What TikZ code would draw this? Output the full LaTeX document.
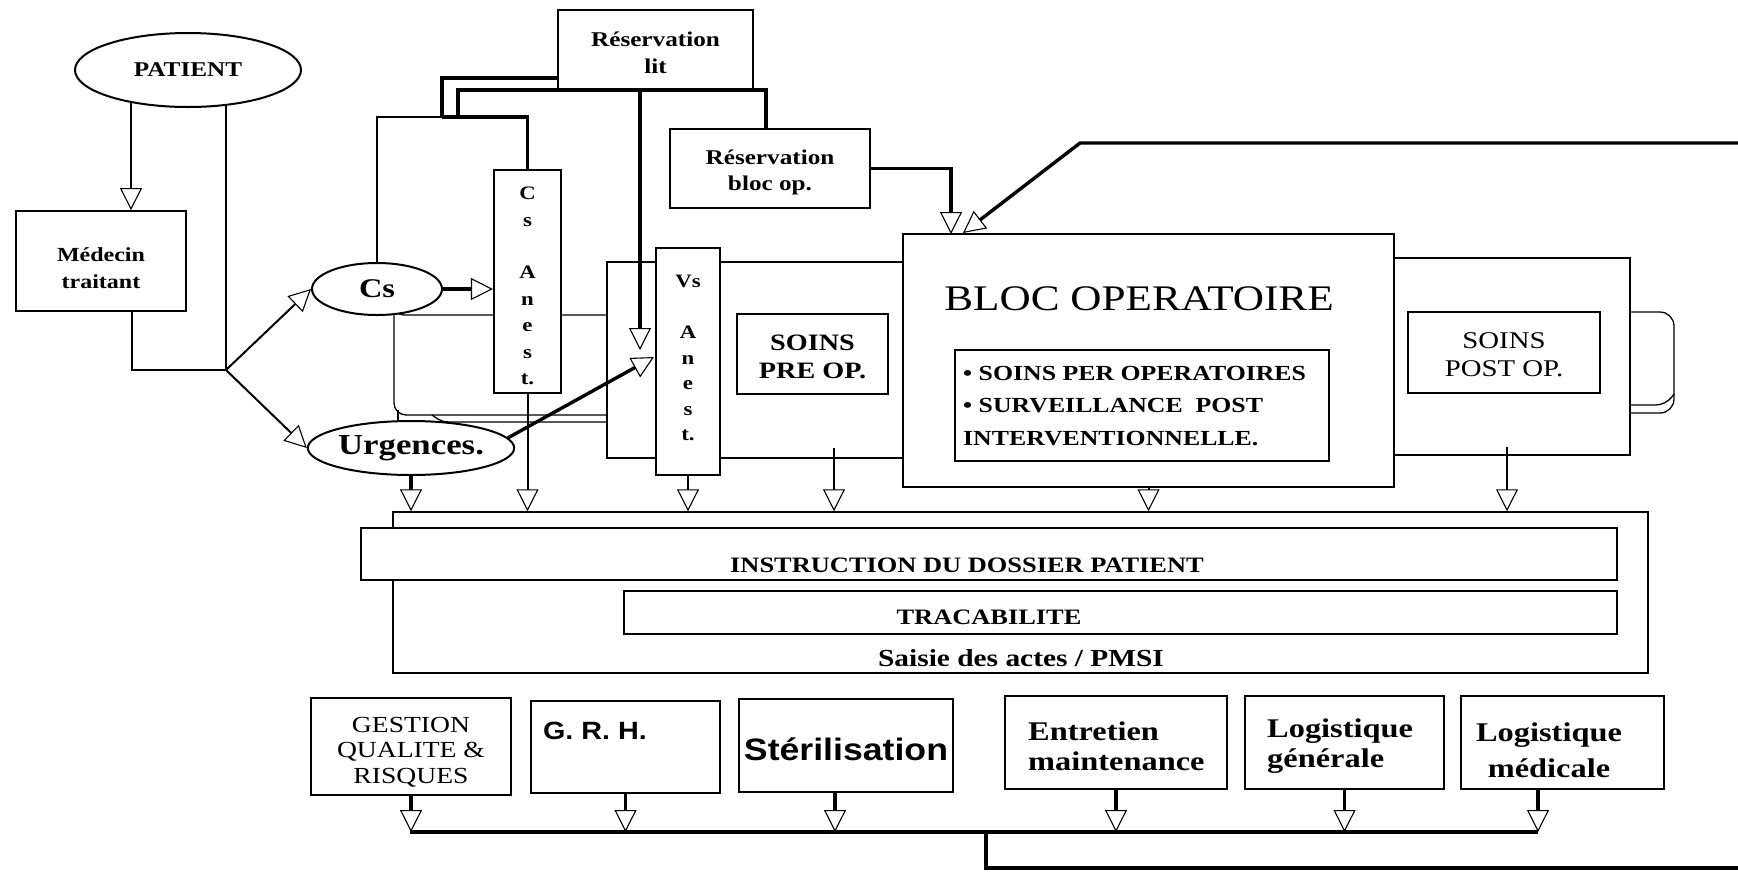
\documentclass[tikz,border=0pt]{standalone}
\usepackage{fontspec}
\newfontfamily\tms{Liberation Serif}[FakeStretch=1.2]
\newfontfamily\ars{Liberation Sans}[FakeStretch=1.15]
\usetikzlibrary{shapes.geometric,arrows.meta}
\newcommand\myfs[2]{\fontsize{#1}{#2}\selectfont}
\begin{document}
\begin{tikzpicture}[x=1pt,y=-1pt,
 thinl/.style={line width=1.3pt},
 medl/.style={line width=2pt},
 thkl/.style={line width=3.4pt},
 bx/.style={draw, line width=2.2pt, fill=white, inner sep=0pt},
 tbx/.style={draw, line width=1.5pt, inner sep=0pt},
 el/.style={ellipse, draw, line width=2pt, fill=white, inner sep=0pt},
 tri/.style={-{Triangle[length=22pt,width=22pt,line width=1.1pt,fill=white]}},
 txt/.style={inner sep=0pt, align=center},
]
\fill[white] (0,0) rectangle (1738,871);
\useasboundingbox (0,0) rectangle (1738,871);

% background shapes
\draw[thinl, rounded corners=12] (394,300) -- (394,415) -- (607,415);
\draw[thinl, rounded corners=10] (394,300) -- (394,315) -- (607,315);
\draw[thinl] (432,415) .. controls (442,422) .. (456,422) -- (607,422);
\draw[thinl] (398,410) -- (398,424);
\node[tbx, minimum width=296pt, minimum height=196pt] (preo) at (755,360) {};
\node[tbx, minimum width=236pt, minimum height=197pt] (posto) at (1512,356.5) {};
\draw[thinl, rounded corners=14] (1630,312) -- (1674,312) -- (1674,413) -- (1630,413);
\draw[thinl, rounded corners=10] (1674,394) -- (1666,405) -- (1630,405);

% top-left nodes
\node[el, minimum width=226pt, minimum height=74pt, font=\tms\bfseries\myfs{21}{25}] (pat) at (188,70) {PATIENT};
\node[bx, line width=1.8pt, minimum width=170pt, minimum height=100pt] (med) at (101,261) {};
\node[txt, font=\tms\bfseries\myfs{20}{27}] (medt) at (101,268) {Médecin\\traitant};
\node[el, minimum width=130pt, minimum height=52pt, font=\tms\bfseries\myfs{27}{30}] (cs) at (377,289) {Cs};
\node[el, minimum width=200pt, minimum height=54pt, font=\tms\bfseries\myfs{29}{32}] (urg) at (411,448) {Urgences.};
\node[bx, minimum width=67pt, minimum height=223pt] (csa) at (527.5,281.5) {};
\node[txt, font=\tms\bfseries\myfs{19}{26.4}] (csat) at (527.5,286) {C\\s\\[26.4pt]A\\n\\e\\s\\t.};
\node[bx, minimum width=195pt, minimum height=79pt] (rlit) at (655.5,49.5) {};
\node[txt, font=\tms\bfseries\myfs{21}{27}] (rlitt) at (655.5,53) {Réservation\\lit};
\node[bx, minimum width=200pt, minimum height=79pt] (rbloc) at (770,168.5) {};
\node[txt, font=\tms\bfseries\myfs{21}{26}] (rblt) at (770,172) {Réservation\\bloc op.};
\node[bx, minimum width=64pt, minimum height=227pt] (vs) at (688,361.5) {};
\node[txt, font=\tms\bfseries\myfs{19}{25.5}] (vst) at (688,358) {Vs\\[25.5pt]A\\n\\e\\s\\t.};
\node[bx, minimum width=151pt, minimum height=80pt] (spre) at (812.5,354) {};
\node[txt, font=\tms\bfseries\myfs{23.5}{28}] (spret) at (812.5,357) {SOINS\\PRE OP.};

% bloc
\node[bx, minimum width=491pt, minimum height=253pt] (bloc) at (1148.5,360.5) {};
\node[txt, font=\tms\myfs{36}{40}] (blocT) at (1139,299) {BLOC OPERATOIRE};
\node[bx, minimum width=374pt, minimum height=111pt] (blin) at (1142,405.5) {};
\node[txt, align=left, anchor=west, font=\tms\bfseries\myfs{21.5}{32.5}] (blint) at (963,406) {• SOINS PER OPERATOIRES\\• SURVEILLANCE\ \ POST\\INTERVENTIONNELLE.};
\node[bx, minimum width=192pt, minimum height=81pt] (spost) at (1504,352.5) {};
\node[txt, font=\tms\myfs{24}{28}] (spostt) at (1504,355) {SOINS\\POST OP.};

% lower box
\node[tbx, minimum width=1255pt, minimum height=161pt] (lb) at (1020.5,592.5) {};
\node[bx, line width=1.8pt, minimum width=1256pt, minimum height=52pt] (instr) at (989,554) {};
\node[txt, font=\tms\bfseries\myfs{22}{26}] (instrt) at (967,565) {INSTRUCTION DU DOSSIER PATIENT};
\node[bx, line width=1.8pt, minimum width=993pt, minimum height=43pt] (trac) at (1120.5,612.5) {};
\node[txt, font=\tms\bfseries\myfs{22}{26}] (tract) at (989,617) {TRACABILITE};
\node[txt, font=\tms\bfseries\myfs{24.5}{28}] (saisie) at (1021,658) {Saisie des actes / PMSI};

% bottom boxes
\node[bx, line width=1.8pt, minimum width=200pt, minimum height=97pt] (gq) at (411,746.5) {};
\node[txt, font=\tms\myfs{23}{25.5}] (gqt) at (411,752) {GESTION\\QUALITE \&\\RISQUES};
\node[bx, line width=1.8pt, minimum width=189pt, minimum height=92pt] (grh) at (625.5,747) {};
\node[txt, font=\ars\bfseries\myfs{25}{28}] (grht) at (595,731) {G. R. H.};
\node[bx, line width=1.8pt, minimum width=214pt, minimum height=93pt] (ster) at (846,745.5) {};
\node[txt, font=\ars\bfseries\myfs{31}{34}] (stert) at (846,749) {Stérilisation};
\node[bx, line width=1.8pt, minimum width=222pt, minimum height=93pt] (ent) at (1116,742.5) {};
\node[txt, align=left, anchor=west, font=\tms\bfseries\myfs{27}{30}] (entt) at (1028,746) {Entretien\\maintenance};
\node[bx, line width=1.8pt, minimum width=199pt, minimum height=93pt] (lg) at (1344.5,742.5) {};
\node[txt, align=left, anchor=west, font=\tms\bfseries\myfs{27}{30}] (lgt) at (1267,746) {Logistique\\générale};
\node[bx, line width=1.8pt, minimum width=203pt, minimum height=93pt] (lm) at (1562.5,742.5) {};
\node[txt, font=\tms\bfseries\myfs{27}{36}] (lmt) at (1549,750) {Logistique\\médicale};

% connectors: patient side
\coordinate (p1) at (131,103);
\draw[thinl, tri] (p1) -- (p1 |- med.north);
\coordinate (br) at (226,370);
\coordinate (p2) at (226,105);
\draw[thinl] (p2) -- (br);
\coordinate (m1) at (132,311);
\draw[thinl] (m1) |- (br);
\draw[medl, tri] (br) -- (cs.west);
\draw[medl, tri] (br) -- (urg.west);
\draw[thkl, tri] (cs.east) -- (cs.east -| csa.west);

% top connectors
\coordinate (ja) at (442,117);
\coordinate (jb) at (458,117);
\draw[medl] (cs.north) |- (ja);
\draw[thkl] (ja) -| (csa.north);
\coordinate (rl) at (558,78);
\draw[thkl] (ja) |- (rl);
\coordinate (lc) at (766,90);
\draw[thkl] (jb) |- (lc) -- (lc |- rbloc.north);
\coordinate (l4) at (640,350);
\draw[thkl, tri] (l4 |- rlit.south) -- (l4);
\coordinate (vsi) at (654,357);
\draw[thkl, tri] (urg.6) -- (vsi);
\coordinate (bt1) at (951,234);
\draw[thkl, tri] (rbloc.east) -| (bt1);
\coordinate (bt2) at (963,233);
\coordinate (dg) at (1080,143);
\coordinate (fr1) at (1738,143);
\draw[thkl, tri] (fr1) -- (dg) -- (bt2);

% down arrows to lower box
\draw[thkl, tri] (urg.south) -- (urg.south |- lb.north);
\draw[medl, tri] (csa.south) -- (csa.south |- lb.north);
\draw[medl, tri] (vs.south) -- (vs.south |- lb.north);
\coordinate (pr) at (834,448);
\draw[medl, tri] (pr) -- (pr |- lb.north);
\draw[medl, tri] (bloc.south) -- (bloc.south |- lb.north);
\coordinate (po) at (1507,447);
\draw[medl, tri] (po) -- (po |- lb.north);

% bottom bus
\coordinate (busL) at (410,832);
\coordinate (busR) at (1538,832);
\coordinate (sx) at (835,832);
\coordinate (mx) at (1538,832);
\draw[thkl] (busL) -- (busR);
\draw[thkl, tri] (gq.south) -- (gq.south |- busL);
\draw[thkl, tri] (grh.south) -- (grh.south |- busL);
\draw[thkl, tri] (ster.south -| sx) -- (sx);
\draw[thkl, tri] (ent.south) -- (ent.south |- busL);
\draw[thkl, tri] (lg.south) -- (lg.south |- busL);
\draw[thkl, tri] (lm.south -| mx) -- (mx);
\coordinate (dr) at (986,832);
\coordinate (fr2) at (1738,868);
\draw[thkl] (dr) |- (fr2);
\end{tikzpicture}
\end{document}
